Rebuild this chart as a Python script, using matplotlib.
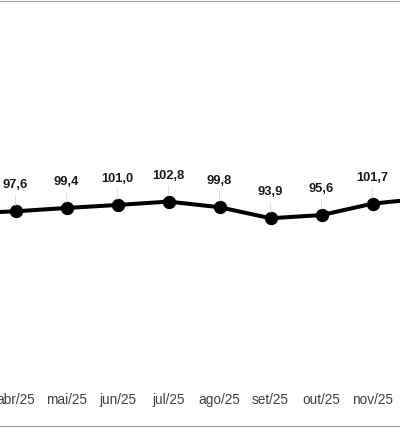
import matplotlib.pyplot as plt
from matplotlib.lines import Line2D

plt.rcParams['font.family'] = ['Liberation Sans', 'DejaVu Sans']

# Data (mar/25 and dez/25 lie just outside the visible crop)
months = ["mar/25", "abr/25", "mai/25", "jun/25", "jul/25", "ago/25",
          "set/25", "out/25", "nov/25", "dez/25"]
values = [96.5, 97.6, 99.4, 101.0, 102.8, 99.8, 93.9, 95.6, 101.7, 104.5]
labels = ["96,5", "97,6", "99,4", "101,0", "102,8", "99,8",
          "93,9", "95,6", "101,7", "104,5"]

fig = plt.figure(figsize=(4, 4.32), dpi=100)
ax = fig.add_axes([0, 46 / 432, 1, 386 / 432])

x = list(range(len(months)))
ax.plot(x, values, color="black", lw=2.9, marker="o", ms=8.6,
        solid_capstyle="round", zorder=3)

for xi, v, lab in zip(x, values, labels):
    ax.annotate(lab, xy=(xi, v), xytext=(0, 18.7), textcoords="offset points",
                ha="center", va="center", fontsize=9.3, fontweight="bold",
                color="#1a1a1a", annotation_clip=True,
                arrowprops=dict(arrowstyle="-", color="#d0d0d0", lw=0.5,
                                shrinkA=1, shrinkB=4))

ax.set_xticks(x)
ax.set_xticklabels(months, fontsize=9.8, color="#404040")
ax.set_xlim(1 - 15.5 / 51, 1 + 384.5 / 51)
ax.set_ylim(4.2, 210.6)
ax.tick_params(axis="x", length=0, pad=5)
ax.set_yticks([])
for s in ax.spines.values():
    s.set_visible(False)

# grey rules at the top and bottom of the frame
fig.add_artist(Line2D([0, 1], [1 - 1.3 / 432] * 2, transform=fig.transFigure,
                      color="#a0a0a0", lw=0.8))
fig.add_artist(Line2D([0, 1], [6 / 432] * 2, transform=fig.transFigure,
                      color="#a0a0a0", lw=0.8))

fig.savefig("out.png", dpi=100)
